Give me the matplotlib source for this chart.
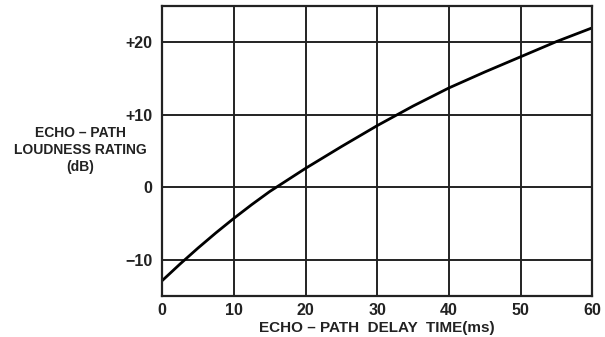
import matplotlib.pyplot as plt

# echo-path loudness rating vs delay
delay_ms = [0, 2.5, 5, 7.5, 10, 12.5, 15, 20, 25, 30, 35, 40, 45, 50, 55, 60]
loudness_db = [-12.9, -10.6, -8.4, -6.3, -4.3, -2.4, -0.6, 2.6, 5.6, 8.5,
               11.2, 13.7, 15.9, 18.0, 20.1, 22.0]

x_ticks = [0, 10, 20, 30, 40, 50, 60]
x_labels = ['0', '10', '20', '30', '40', '50', '60']
y_ticks = [-10, 0, 10, 20]
y_labels = ['\u221210', '0', '+10', '+20']

font = {'family': 'Liberation Sans', 'weight': 'bold'}
ink = '#222222'

fig = plt.figure(figsize=(6.05, 3.37), dpi=100)
ax = fig.add_axes([0.268, 0.122, 0.711, 0.86])

ax.plot(delay_ms, loudness_db, color='black', linewidth=2.0,
        solid_capstyle='butt', solid_joinstyle='round')

ax.set_xlim(0, 60)
ax.set_ylim(-15, 25)
ax.set_xticks(x_ticks)
ax.set_xticklabels(x_labels, fontdict=font, fontsize=11.5)
ax.set_yticks(y_ticks)
ax.set_yticklabels(y_labels, fontdict=font, fontsize=11.5)
ax.tick_params(axis='x', length=0, pad=5, colors=ink)
ax.tick_params(axis='y', length=0, pad=7, colors=ink)

ax.grid(True, color=ink, linewidth=1.4)
for s in ax.spines.values():
    s.set_linewidth(1.6)
    s.set_color(ink)

ax.set_xlabel('ECHO \u2013 PATH  DELAY  TIME(ms)', fontdict=font, fontsize=11,
              labelpad=2, color=ink)
fig.text(0.133, 0.555, 'ECHO \u2013 PATH\nLOUDNESS RATING\n(dB)', ha='center', va='center',
         fontsize=10, linespacing=1.25, color=ink, **font)

fig.savefig('out.png', dpi=100)
